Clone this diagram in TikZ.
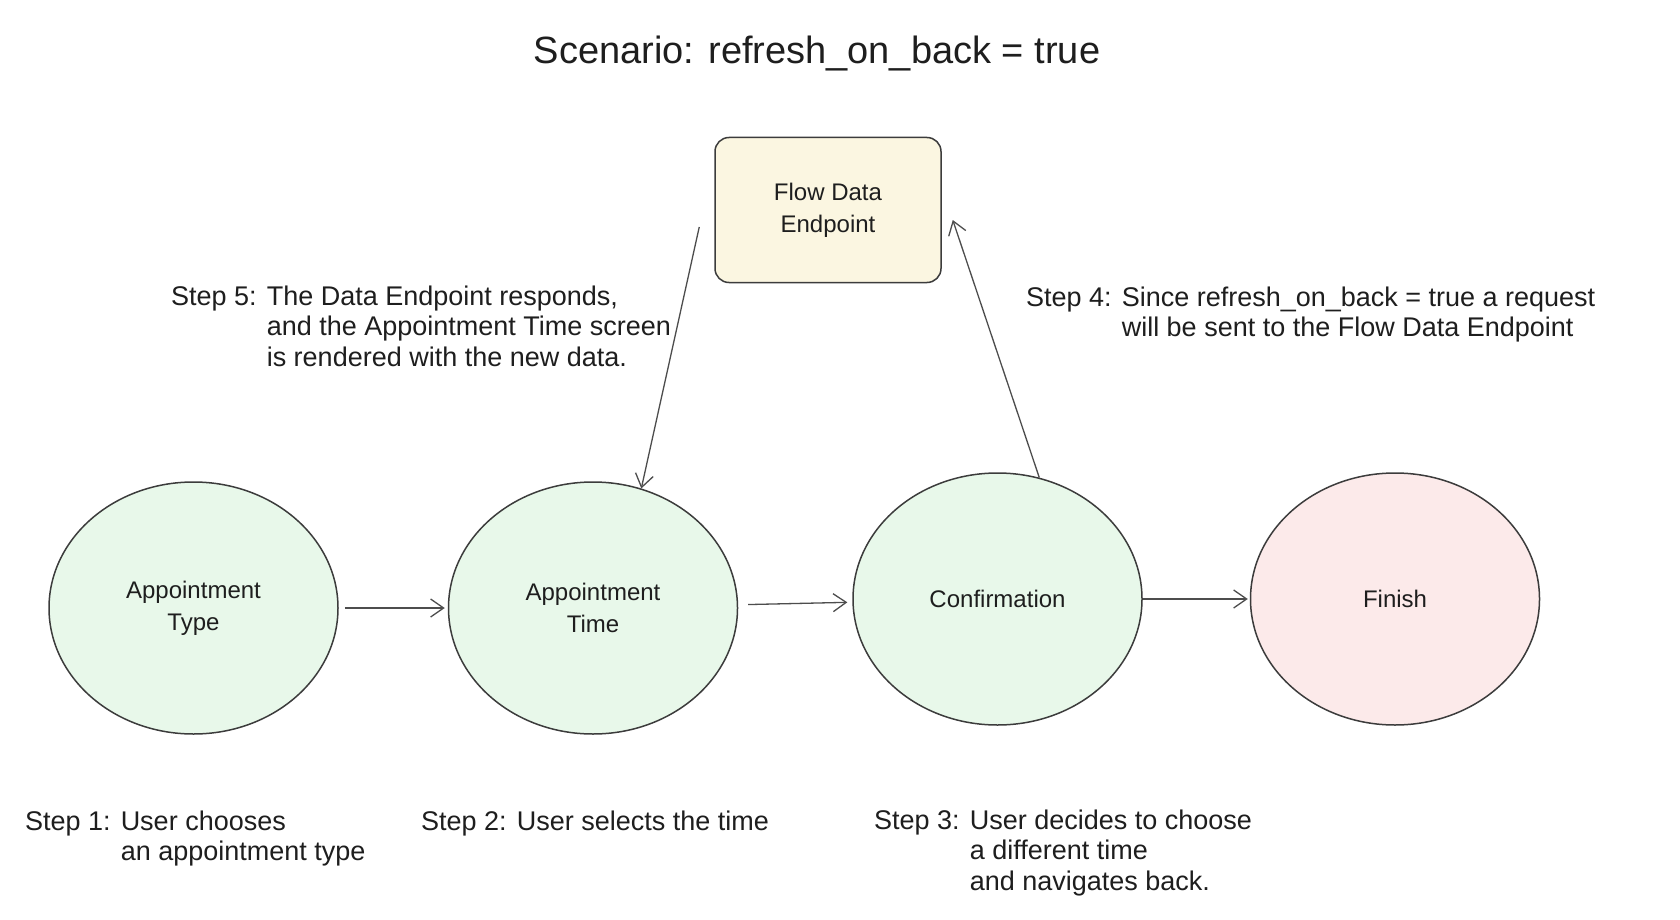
\documentclass[tikz,border=0pt]{standalone}
\usepackage{fontspec}
\setmainfont{Liberation Sans}
\usepackage{tikz}
\usetikzlibrary{positioning, arrows.meta, shapes.geometric}
\definecolor{cScreen}{HTML}{E8F8EA}
\definecolor{cEndpoint}{HTML}{FBF6E1}
\definecolor{cFinish}{HTML}{FCEAEA}
\definecolor{cEdge}{HTML}{3C3C3C}
\definecolor{cArrow}{HTML}{4D4D4D}
\definecolor{cText}{HTML}{1E1E1E}
\tikzset{
  screen/.style={
    ellipse, draw=cEdge, line width=1.5pt, fill=#1, inner sep=0pt,
    minimum width=289pt, minimum height=252pt,
    text=cText, align=center, font=\fontsize{24}{32}\selectfont
  },
  screen/.default=cScreen,
  endpoint/.style={
    rectangle, rounded corners=14pt, draw=cEdge, line width=1.5pt,
    fill=cEndpoint, minimum width=226pt, minimum height=145pt,
    text=cText, align=center, font=\fontsize{24}{32}\selectfont
  },
  steptext/.style={
    anchor=base west, inner sep=0pt, text=cText,
    font=\fontsize{27}{30.5}\selectfont
  },
  heading/.style={
    anchor=base, inner sep=0pt, text=cText, font=\fontsize{38}{42}\selectfont
  },
  arrow/.style={-{Straight Barb[length=13pt, width=18pt]}, line width=1.3pt, color=cArrow},
}
\newcommand{\steplines}[1]{\begin{tabular}[t]{@{}l@{ }l@{}}#1\end{tabular}}

\begin{document}
\begin{tikzpicture}[x=1pt, y=-1pt]

  \useasboundingbox[fill=white] (0,0) rectangle (1680,920);

  \node[heading] (title) at (817,64) {Scenario: refresh\_on\_back = true};

  % screens of the flow
  \node[screen] (atype) at (193.5,608) {Appointment\\Type};
  \node[screen, right=109pt of atype] (atime) {Appointment\\Time};
  \node[screen, right=114pt of atime, yshift=9pt] (confirm) {Confirmation};
  \node[screen=cFinish, right=107pt of confirm] (finish) {Finish};

  \node[endpoint] (ep) at (828,210) {Flow Data\\Endpoint};

  \draw[arrow, shorten <=6pt, shorten >=3pt] (atype) -- (atime);
  \draw[arrow, shorten <=10pt, shorten >=5pt] (atime) -- (confirm);
  \draw[arrow, shorten >=2pt] (confirm) -- (finish);
  \draw[arrow] (confirm.71) -- ([shift={(11,10)}]ep.east);
  \draw[arrow] ([shift={(-15,17)}]ep.west) -- (atime.68);

  % step notes
  \node[steptext] (step1) at (25,830) {\steplines{Step 1: & User chooses\\ & an appointment type}};
  \node[steptext] (step2) at (421,830) {\steplines{Step 2: & User selects the time}};
  \node[steptext] (step3) at (874,829) {\steplines{Step 3: & User decides to choose\\ & a different time\\ & and navigates back.}};
  \node[steptext] (step4) at (1026,306) {\steplines{Step 4: & Since refresh\_on\_back = true a request\\ & will be sent to the Flow Data Endpoint}};
  \node[steptext] (step5) at (171,305) {\steplines{Step 5: & The Data Endpoint responds,\\ & and the Appointment Time screen\\ & is rendered with the new data.}};

\end{tikzpicture}
\end{document}
